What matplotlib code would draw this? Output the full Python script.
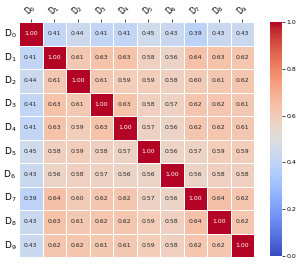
import numpy as np
import matplotlib
matplotlib.use("Agg")
import matplotlib.pyplot as plt
import seaborn as sns

labels = [f"D$_{i}$" for i in range(10)]
corr = np.array([
    [1.00, 0.41, 0.44, 0.41, 0.41, 0.45, 0.43, 0.39, 0.43, 0.43],
    [0.41, 1.00, 0.61, 0.63, 0.63, 0.58, 0.56, 0.64, 0.63, 0.62],
    [0.44, 0.61, 1.00, 0.61, 0.59, 0.59, 0.58, 0.60, 0.61, 0.62],
    [0.41, 0.63, 0.61, 1.00, 0.63, 0.58, 0.57, 0.62, 0.62, 0.61],
    [0.41, 0.63, 0.59, 0.63, 1.00, 0.57, 0.56, 0.62, 0.62, 0.61],
    [0.45, 0.58, 0.59, 0.58, 0.57, 1.00, 0.56, 0.57, 0.59, 0.59],
    [0.43, 0.56, 0.58, 0.57, 0.56, 0.56, 1.00, 0.56, 0.58, 0.58],
    [0.39, 0.64, 0.60, 0.62, 0.62, 0.57, 0.56, 1.00, 0.64, 0.62],
    [0.43, 0.63, 0.61, 0.62, 0.62, 0.59, 0.58, 0.64, 1.00, 0.62],
    [0.43, 0.62, 0.62, 0.61, 0.61, 0.59, 0.58, 0.62, 0.62, 1.00],
])

fig = plt.figure(figsize=(2.99, 2.64), dpi=100)
ax = fig.add_axes([19/299, 7/264, 235/299, 235/264])
cax = fig.add_axes([270/299, 8/264, 12/299, 234/264])

sns.heatmap(corr, ax=ax, cbar_ax=cax, cmap="coolwarm", vmin=0, vmax=1,
            annot=True, fmt=".2f", annot_kws={"size": 4.4},
            linewidths=0.5, linecolor="white",
            xticklabels=labels, yticklabels=labels)

ax.xaxis.tick_top()
ax.tick_params(axis="x", labelsize=5.5, length=2, width=0.5, pad=1)
ax.tick_params(axis="y", labelsize=6.5, length=0, pad=2)
plt.setp(ax.get_xticklabels(), rotation=45, ha="center")
plt.setp(ax.get_yticklabels(), rotation=0)

cax.tick_params(labelsize=4.5, length=2, width=0.5, pad=1)
cax.set_yticks([0.0, 0.2, 0.4, 0.6, 0.8, 1.0])

fig.savefig("out.png", dpi=100)
